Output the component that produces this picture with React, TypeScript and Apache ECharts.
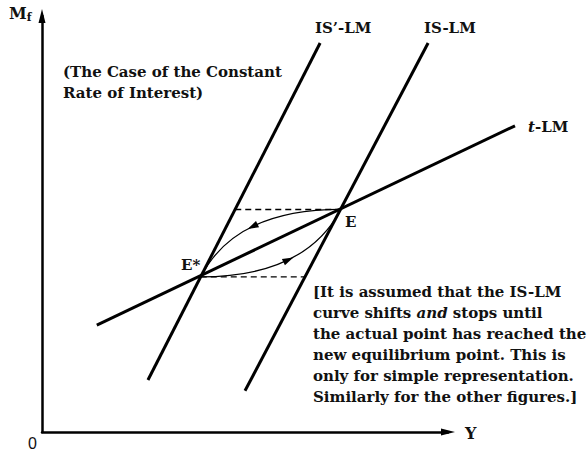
import React, { useEffect, useRef } from "react";
import * as echarts from "echarts";

// Values (arbitrary units: Y 0..100, Mf 0..100)
const isPrimeLM: number[] = [26.1, 12.5, 68.5, 93.5];
const isLM: number[] = [50.0, 9.9, 95.1, 93.5];
const tLM: number[] = [13.5, 25.7, 116.5, 73.6];
const pointE: number[] = [73.6, 53.5];
const pointEStar: number[] = [39.1, 37.3];
const upperDash: number[] = [47.6, 53.5, 73.6, 53.5];
const lowerDash: number[] = [39.1, 37.3, 64.8, 37.3];
// adjustment paths: start, control, end
const adjustPaths: number[][] = [
  [73.6, 53.5, 47.6, 53.5, 39.1, 37.3],
  [39.1, 37.3, 64.8, 37.3, 73.6, 53.5],
];
const noteLines: string[] = [
  "[It is assumed that the IS-LM",
  "curve shifts |and| stops until",
  "the actual point has reached the",
  "new equilibrium point. This is",
  "only for simple representation.",
  "Similarly for the other figures.]",
];
const titleLines: string[] = ["(The Case of the Constant", "Rate of Interest)"];

const SERIF = "'DejaVu Serif', 'Liberation Serif', serif";
const FS = 15;

export default function App() {
  const ref = useRef<HTMLDivElement>(null);
  useEffect(() => {
    if (!ref.current) return;
    const chart = echarts.init(ref.current, undefined, { renderer: "svg" });
    const axisCommon = {
      type: "value" as const,
      min: 0,
      max: 100,
      axisLine: {
        show: true,
        symbol: ["none", "triangle"],
        symbolSize: [7, 14],
        lineStyle: { color: "#000", width: 2.5 },
      },
      axisTick: { show: false },
      axisLabel: { show: false },
      splitLine: { show: false },
    };
    const segSeries = (data: number[][], width: number, dashed = false) => ({
      type: "custom" as const,
      silent: true,
      clip: false,
      data,
      encode: { x: [0, 2], y: [1, 3] },
      renderItem: (params: any, api: any) => {
        const a = api.coord([api.value(0), api.value(1)]);
        const b = api.coord([api.value(2), api.value(3)]);
        return {
          type: "line",
          shape: { x1: a[0], y1: a[1], x2: b[0], y2: b[1] },
          style: { stroke: "#000", lineWidth: width, lineDash: dashed ? [6, 4] : null, lineCap: "butt" },
        };
      },
    });
    const rich = {
      n: { fontFamily: SERIF, fontWeight: "bold", fontSize: FS, fill: "#111" },
      i: { fontFamily: SERIF, fontStyle: "italic", fontWeight: "bold", fontSize: FS, fill: "#111" },
    };
    const txt = (x: number, y: number, text: string, size = FS) => ({
      type: "text",
      x,
      y,
      style: { text, fill: "#111", font: `bold ${size}px ${SERIF}`, verticalAlign: "middle" },
    });
    const graphics: any[] = [
      {
        type: "text",
        left: 9,
        top: 5,
        style: {
          text: "{m|M}{s|f}",
          rich: {
            m: { fontFamily: SERIF, fontWeight: "bold", fontSize: 16, fill: "#111" },
            s: { fontFamily: SERIF, fontWeight: "bold", fontSize: 11, fill: "#111", padding: [8, 0, 0, 0] },
          },
        },
      },
      { type: "text", x: 28, y: 443, style: { text: "0", fill: "#111", font: "16px 'Liberation Sans', sans-serif", verticalAlign: "middle" } },
      txt(465, 433, "Y", 16),
      txt(315, 28, "IS’-LM"),
      txt(424, 28, "IS-LM"),
      {
        type: "text",
        x: 528,
        y: 127,
        style: { text: "{i|t}{n|-LM}", verticalAlign: "middle", rich },
      },
      txt(345, 222, "E"),
      txt(181, 265, "E*"),
      ...titleLines.map((t, i) => txt(63, 72 + i * 21, t)),
      ...noteLines.map((t, i) => {
        const parts = t.split("|");
        const text = parts.length === 3 ? `{n|${parts[0]}}{i|${parts[1]}}{n|${parts[2]}}` : `{n|${t}}`;
        return {
          type: "text",
          x: 313,
          y: 292 + i * 21,
          style: { text, verticalAlign: "middle", rich },
        };
      }),
    ];

    chart.setOption({
      animation: false,
      grid: { left: 42, right: 140, top: 16, bottom: 19, containLabel: false },
      xAxis: { ...axisCommon },
      yAxis: { ...axisCommon },
      series: [
        segSeries([isPrimeLM, isLM, tLM], 3),
        segSeries([upperDash, lowerDash], 1.4, true),
        {
          type: "custom",
          silent: true,
          clip: false,
          data: adjustPaths,
          encode: { x: [0, 2, 4], y: [1, 3, 5] },
          renderItem: (params: any, api: any) => {
            const p0 = api.coord([api.value(0), api.value(1)]);
            const c = api.coord([api.value(2), api.value(3)]);
            const p1 = api.coord([api.value(4), api.value(5)]);
            const mx = 0.25 * p0[0] + 0.5 * c[0] + 0.25 * p1[0];
            const my = 0.25 * p0[1] + 0.5 * c[1] + 0.25 * p1[1];
            let dx = p1[0] - p0[0];
            let dy = p1[1] - p0[1];
            const L = Math.hypot(dx, dy) || 1;
            dx /= L;
            dy /= L;
            const px = -dy, py = dx;
            const tip = [mx + dx * 6, my + dy * 6];
            const b1 = [mx - dx * 5 + px * 3.5, my - dy * 5 + py * 3.5];
            const b2 = [mx - dx * 5 - px * 3.5, my - dy * 5 - py * 3.5];
            return {
              type: "group",
              children: [
                {
                  type: "bezierCurve",
                  shape: { x1: p0[0], y1: p0[1], cpx1: c[0], cpy1: c[1], x2: p1[0], y2: p1[1] },
                  style: { stroke: "#000", lineWidth: 1.3, fill: null },
                },
                {
                  type: "polygon",
                  shape: { points: [tip, b1, b2] },
                  style: { fill: "#000", stroke: null },
                },
              ],
            };
          },
        },
        {
          type: "scatter",
          data: [pointE, pointEStar],
          symbolSize: 0,
          silent: true,
        },
      ],
      graphic: graphics,
    });
    return () => chart.dispose();
  }, []);
  return (
    <div
      ref={ref}
      style={{ position: "fixed", left: 0, top: 0, width: 588, height: 451, background: "#fff" }}
    />
  );
}
